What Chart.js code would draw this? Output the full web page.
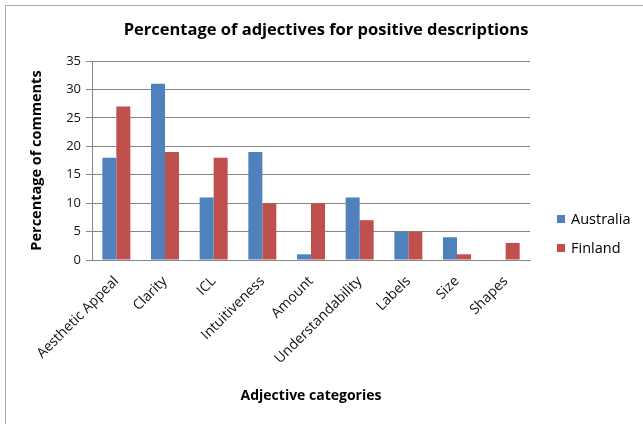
<!DOCTYPE html>
<html>
<head>
<meta charset="utf-8">
<script src="https://cdn.jsdelivr.net/npm/chart.js@4.4.1/dist/chart.umd.min.js"></script>
<style>
  html, body { margin: 0; padding: 0; background: #fff; }
  #wrap { position: relative; width: 643px; height: 424px; }
</style>
</head>
<body>
<div id="wrap"><canvas id="adjChart" width="643" height="424"></canvas></div>
<script>
// Adjective categories and the share of comments per country (%)
const categories = ['Aesthetic Appeal', 'Clarity', 'ICL', 'Intuitiveness', 'Amount',
    'Understandability', 'Labels', 'Size', 'Shapes'];
const australia = [18, 31, 11, 19, 1, 11, 5, 4, 0];
const finland = [27, 19, 18, 10, 10, 7, 5, 1, 3];
const yTicks = [0, 5, 10, 15, 20, 25, 30, 35];

const chartTitle = 'Percentage of adjectives for positive descriptions';
const FONT = '"Open Sans", Lato, sans-serif';
const gridColor = '#868686';

// Outer frame, title and the legend on the right
const framePlugin = {
    id: 'frame',
    beforeDraw(chart) {
        const ctx = chart.ctx;
        ctx.save();
        ctx.strokeStyle = '#a6a6a6';
        ctx.lineWidth = 1;
        ctx.beginPath();
        ctx.moveTo(5.5, chart.height);
        ctx.lineTo(5.5, 5.5);
        ctx.lineTo(chart.width, 5.5);
        ctx.stroke();
        ctx.restore();
    },
    afterDraw(chart) {
        const ctx = chart.ctx;
        ctx.save();
        ctx.fillStyle = '#000';
        ctx.textAlign = 'center';
        ctx.textBaseline = 'middle';
        ctx.font = 'bold 16.5px ' + FONT;
        ctx.fillText(chartTitle, 326, 30);

        ctx.textAlign = 'left';
        ctx.font = '14.5px ' + FONT;
        chart.data.datasets.forEach((ds, i) => {
            const y = 219 + i * 29;
            ctx.fillStyle = ds.backgroundColor;
            ctx.fillRect(557, y - 4, 8, 8);
            ctx.fillStyle = '#000';
            ctx.fillText(ds.label, 571, y + 1);
        });
        ctx.restore();
    }
};

new Chart(document.getElementById('adjChart').getContext('2d'), {
    type: 'bar',
    data: {
        labels: categories,
        datasets: [
            { label: 'Australia', data: australia, backgroundColor: '#4f81bd' },
            { label: 'Finland', data: finland, backgroundColor: '#c0504d' }
        ]
    },
    options: {
        responsive: false,
        animation: false,
        events: [],
        layout: { padding: { left: 0, right: 113, top: 61, bottom: 0 } },
        datasets: { bar: { categoryPercentage: 0.575, barPercentage: 1.0 } },
        plugins: {
            legend: { display: false },
            tooltip: { enabled: false },
            title: { display: false }
        },
        scales: {
            x: {
                grid: { display: false },
                border: { display: true, color: gridColor, width: 1 },
                ticks: {
                    color: '#111',
                    font: { family: FONT, size: 14 },
                    minRotation: 45,
                    maxRotation: 45,
                    autoSkip: false,
                    padding: 5
                },
                title: {
                    display: true,
                    text: 'Adjective categories',
                    color: '#000',
                    font: { family: FONT, size: 14, weight: 'bold' },
                    padding: { top: 0, bottom: 20 }
                },
                afterFit(scale) { scale.height = 164; }
            },
            y: {
                min: 0,
                max: 35,
                afterBuildTicks(scale) { scale.ticks = yTicks.map(v => ({ value: v })); },
                grid: { color: gridColor, lineWidth: 1, drawTicks: true, tickLength: 6 },
                border: { display: true, color: gridColor, width: 1 },
                ticks: { color: '#111', font: { family: FONT, size: 13 }, padding: 5 },
                title: {
                    display: true,
                    text: 'Percentage of comments',
                    color: '#000',
                    font: { family: FONT, size: 14.5, weight: 'bold' },
                    padding: { top: 28, bottom: 0 }
                },
                afterFit(scale) { scale.width = 92; }
            }
        }
    },
    plugins: [framePlugin]
});
</script>
</body>
</html>
